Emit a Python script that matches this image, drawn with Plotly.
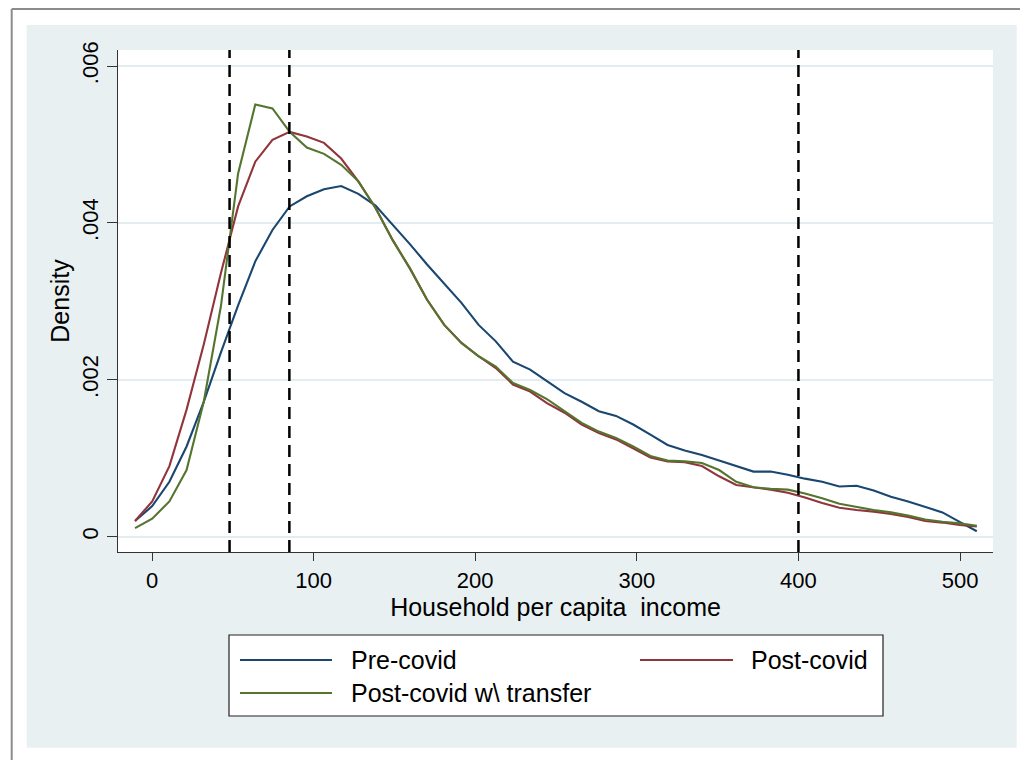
import plotly.graph_objects as go

# ---- data ----
income = [-10.5, 0.13, 10.76, 21.39, 32.02, 42.65, 53.28, 63.91, 74.54, 85.17,
          95.8, 106.43, 117.06, 127.69, 138.32, 148.95, 159.58, 170.21, 180.84, 191.47,
          202.1, 212.73, 223.36, 233.99, 244.62, 255.25, 265.88, 276.51, 287.14, 297.77,
          308.4, 319.03, 329.66, 340.29, 350.92, 361.55, 372.18, 382.81, 393.44, 404.07,
          414.7, 425.33, 435.96, 446.59, 457.22, 467.85, 478.48, 489.11, 499.74, 510.37]

pre_covid = [0.0002, 0.00039, 0.0007, 0.00115, 0.00172, 0.00235, 0.00295, 0.00351, 0.00391, 0.00421,
             0.00434, 0.00443, 0.00447, 0.00437, 0.00422, 0.00398, 0.00373, 0.00347, 0.00323, 0.00298,
             0.0027, 0.00249, 0.00223, 0.00213, 0.00198, 0.00183, 0.00172, 0.0016, 0.00154, 0.00143,
             0.0013, 0.00117, 0.0011, 0.00104, 0.00097, 0.0009, 0.00083, 0.00083, 0.00079, 0.00074,
             0.0007, 0.00064, 0.00065, 0.00059, 0.00051, 0.00045, 0.00038, 0.00031, 0.00019, 0.00007]

post_covid = [0.0002, 0.00045, 0.0009, 0.00162, 0.00245, 0.00336, 0.00421, 0.00478, 0.00506, 0.00516,
              0.0051, 0.00502, 0.00482, 0.00453, 0.00419, 0.00378, 0.00342, 0.00302, 0.0027, 0.00247,
              0.0023, 0.00215, 0.00194, 0.00185, 0.0017, 0.00158, 0.00143, 0.00132, 0.00124, 0.00113,
              0.00101, 0.00096, 0.00095, 0.0009, 0.00077, 0.00066, 0.00063, 0.0006, 0.00056, 0.0005,
              0.00043, 0.00037, 0.00034, 0.00032, 0.00029, 0.00025, 0.0002, 0.00018, 0.00015, 0.00013]

post_covid_transfer = [0.00011, 0.00023, 0.00045, 0.00085, 0.00172, 0.00294, 0.00463, 0.00551, 0.00546, 0.00516,
                       0.00496, 0.00488, 0.00474, 0.00453, 0.00419, 0.00378, 0.00342, 0.00302, 0.0027, 0.00247,
                       0.0023, 0.00217, 0.00196, 0.00187, 0.00175, 0.0016, 0.00145, 0.00134, 0.00126, 0.00115,
                       0.00103, 0.00097, 0.00096, 0.00094, 0.00085, 0.0007, 0.00063, 0.00061, 0.0006, 0.00055,
                       0.00049, 0.00042, 0.00038, 0.00034, 0.00031, 0.00027, 0.00022, 0.00019, 0.00017, 0.00014]

cutoffs = [48, 85, 400]
series_names = ["Pre-covid", "Post-covid", "Post-covid w\\ transfer"]
x_ticks = [0, 100, 200, 300, 400, 500]
y_ticks = [0, 0.002, 0.004, 0.006]
y_tick_labels = ["0", ".002", ".004", ".006"]

# ---- styling / geometry ----
OFF = 8                                  # page body margin offset
W, H = 1028 - OFF, 760 - OFF
L, R, T, B = 118, 993, 50, 552           # plot area in screenshot pixels
colors = ["#1a476f", "#90353b", "#55752f"]
bg_light = "#e8f0f2"
FONT = "Liberation Sans, Arial, Helvetica, sans-serif"


def px_x(p):
    return (p - L) / (R - L)


def px_y(p):
    return (B - p) / (B - T)


fig = go.Figure()
for name, ys, c in zip(series_names, [pre_covid, post_covid, post_covid_transfer], colors):
    fig.add_trace(go.Scatter(x=income, y=ys, mode="lines", name=name,
                             line=dict(color=c, width=2.1), showlegend=False))

shapes = [
    # light graph region
    dict(type="rect", xref="paper", yref="paper", x0=px_x(26.7), x1=px_x(1016.7),
         y0=px_y(747.7), y1=px_y(25), fillcolor=bg_light, line=dict(width=0), layer="below"),
    # white plot region
    dict(type="rect", xref="paper", yref="paper", x0=0, x1=1, y0=0, y1=1,
         fillcolor="white", line=dict(width=0), layer="below"),
    # outer window frame
    dict(type="line", xref="paper", yref="paper", x0=px_x(11.7), x1=px_x(11.7),
         y0=px_y(9), y1=px_y(780), line=dict(color="#8c8c8c", width=2)),
    dict(type="line", xref="paper", yref="paper", x0=px_x(11.7), x1=px_x(1040),
         y0=px_y(9), y1=px_y(9), line=dict(color="#8c8c8c", width=2)),
]
for xc in cutoffs:
    shapes.append(dict(type="line", xref="x", yref="paper", x0=xc, x1=xc, y0=0, y1=1,
                       line=dict(color="black", width=2.5, dash="12px,7px")))

# manual legend (Stata-style box)
shapes.append(dict(type="rect", xref="paper", yref="paper", x0=px_x(229), x1=px_x(883),
                   y0=px_y(716), y1=px_y(635), fillcolor="white",
                   line=dict(color="#222222", width=1.2)))
legend_items = [(240, 332, 349, 660), (640, 733, 749, 660), (240, 332, 349, 693)]
annotations = []
for (lx0, lx1, tx, yy), name, c in zip(legend_items, series_names, colors):
    shapes.append(dict(type="line", xref="paper", yref="paper", x0=px_x(lx0), x1=px_x(lx1),
                       y0=px_y(yy), y1=px_y(yy), line=dict(color=c, width=2.1)))
    annotations.append(dict(xref="paper", yref="paper", x=px_x(tx), y=px_y(yy), text=name,
                            showarrow=False, xanchor="left", yanchor="middle",
                            font=dict(size=25, color="black", family=FONT)))

fig.update_layout(
    width=W, height=H,
    margin=dict(l=L - OFF, r=1028 - R, t=T - OFF, b=760 - B, pad=0),
    paper_bgcolor="white", plot_bgcolor="white",
    font=dict(family=FONT, color="black"),
    shapes=shapes, annotations=annotations,
    xaxis=dict(range=[-21.04, 520.4], tickvals=x_ticks, ticks="outside", ticklen=8,
               tickwidth=1.3, tickcolor="#333333", showline=True, linecolor="#333333",
               linewidth=1.3, showgrid=False, zeroline=False,
               tickfont=dict(size=22, family=FONT),
               title=dict(text="Household per capita\u00a0 income", font=dict(size=25, family=FONT),
                          standoff=6)),
    yaxis=dict(range=[-0.000195, 0.006204], tickvals=y_ticks, ticktext=y_tick_labels,
               ticks="outside", ticklen=10, tickwidth=1.3, tickcolor="#333333",
               showline=True, linecolor="#333333", linewidth=1.3,
               showgrid=True, gridcolor="#e3edef", gridwidth=2, zeroline=False,
               tickangle=-90, tickfont=dict(size=22, family=FONT),
               title=dict(text="Density", font=dict(size=25, family=FONT), standoff=1)),
)

fig.write_html("out.html")
